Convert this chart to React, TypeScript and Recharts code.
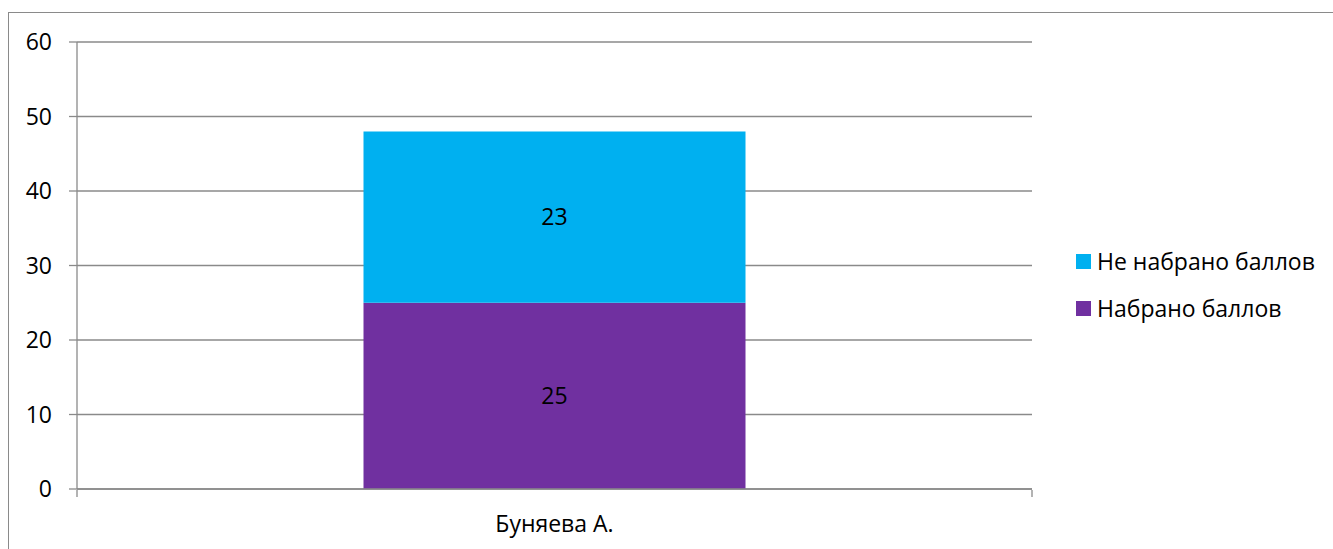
import { BarChart, Bar, XAxis, YAxis, CartesianGrid, LabelList } from 'recharts';

const categories = ['Буняева А.'];
const scored = [25];
const notScored = [23];
const yTicks = [0, 10, 20, 30, 40, 50, 60];
const seriesNames = { scored: 'Набрано баллов', notScored: 'Не набрано баллов' };

const data = categories.map((name, i) => ({
  name,
  scored: scored[i],
  notScored: notScored[i],
  pos: i,
}));

const FONT = '"Open Sans", sans-serif';
const AXIS = '#8a8a8a';
const FS = 23;

const legendItems = [
  { label: seriesNames.notScored, color: '#00b0f0' },
  { label: seriesNames.scored, color: '#7030a0' },
];

function LegendBox() {
  return (
    <div style={{ position: 'absolute', left: 1067, top: 225, fontFamily: FONT, fontSize: FS, color: '#000', lineHeight: 1 }}>
      {legendItems.map((it) => (
        <div key={it.label} style={{ display: 'flex', alignItems: 'center', height: 47, whiteSpace: 'nowrap' }}>
          <span style={{ width: 15, height: 15, background: it.color, marginRight: 6, display: 'inline-block' }} />
          <span>{it.label}</span>
        </div>
      ))}
    </div>
  );
}

export default function App() {
  // fixed so the oversized frame (its right and bottom edges sit off-screen) adds no scroll
  return (
    <div style={{ position: 'fixed', left: 8, top: 12, width: 1340, height: 560, border: `1px solid ${AXIS}`, boxSizing: 'border-box', background: '#fff' }}>
      <BarChart
        width={1324}
        height={537}
        data={data}
        margin={{ top: 29, right: 301, bottom: 31, left: 0 }}
        barCategoryGap="30%"
        style={{ fontFamily: FONT }}
      >
        <CartesianGrid vertical={false} stroke={AXIS} strokeWidth={1.3} />
        <XAxis
          dataKey="name"
          height={1}
          axisLine={{ stroke: AXIS, strokeWidth: 1.3 }}
          tickLine={false}
          tickSize={0}
          tickMargin={27}
          tick={{ fontSize: FS, fill: '#000' }}
        />
        <XAxis
          xAxisId="edge"
          type="number"
          dataKey="pos"
          domain={[-0.5, categories.length - 0.5]}
          ticks={[-0.5, categories.length - 0.5]}
          interval={0}
          height={29}
          axisLine={false}
          tickSize={7}
          tickLine={{ stroke: AXIS, strokeWidth: 1.3 }}
          tick={{ fontSize: 1, fill: 'none' }}
        />
        <YAxis
          width={68}
          domain={[0, 60]}
          ticks={yTicks}
          axisLine={{ stroke: AXIS, strokeWidth: 1.3 }}
          tickLine={{ stroke: AXIS, strokeWidth: 1.3 }}
          tickSize={8}
          tickMargin={17}
          tick={{ fontSize: FS, fill: '#000' }}
        />
        <Bar dataKey="scored" stackId="a" fill="#7030a0" isAnimationActive={false}>
          <LabelList dataKey="scored" position="center" fill="#000" fontSize={FS} />
        </Bar>
        <Bar dataKey="notScored" stackId="a" fill="#00b0f0" isAnimationActive={false}>
          <LabelList dataKey="notScored" position="center" fill="#000" fontSize={FS} />
        </Bar>
      </BarChart>
      <LegendBox />
    </div>
  );
}
